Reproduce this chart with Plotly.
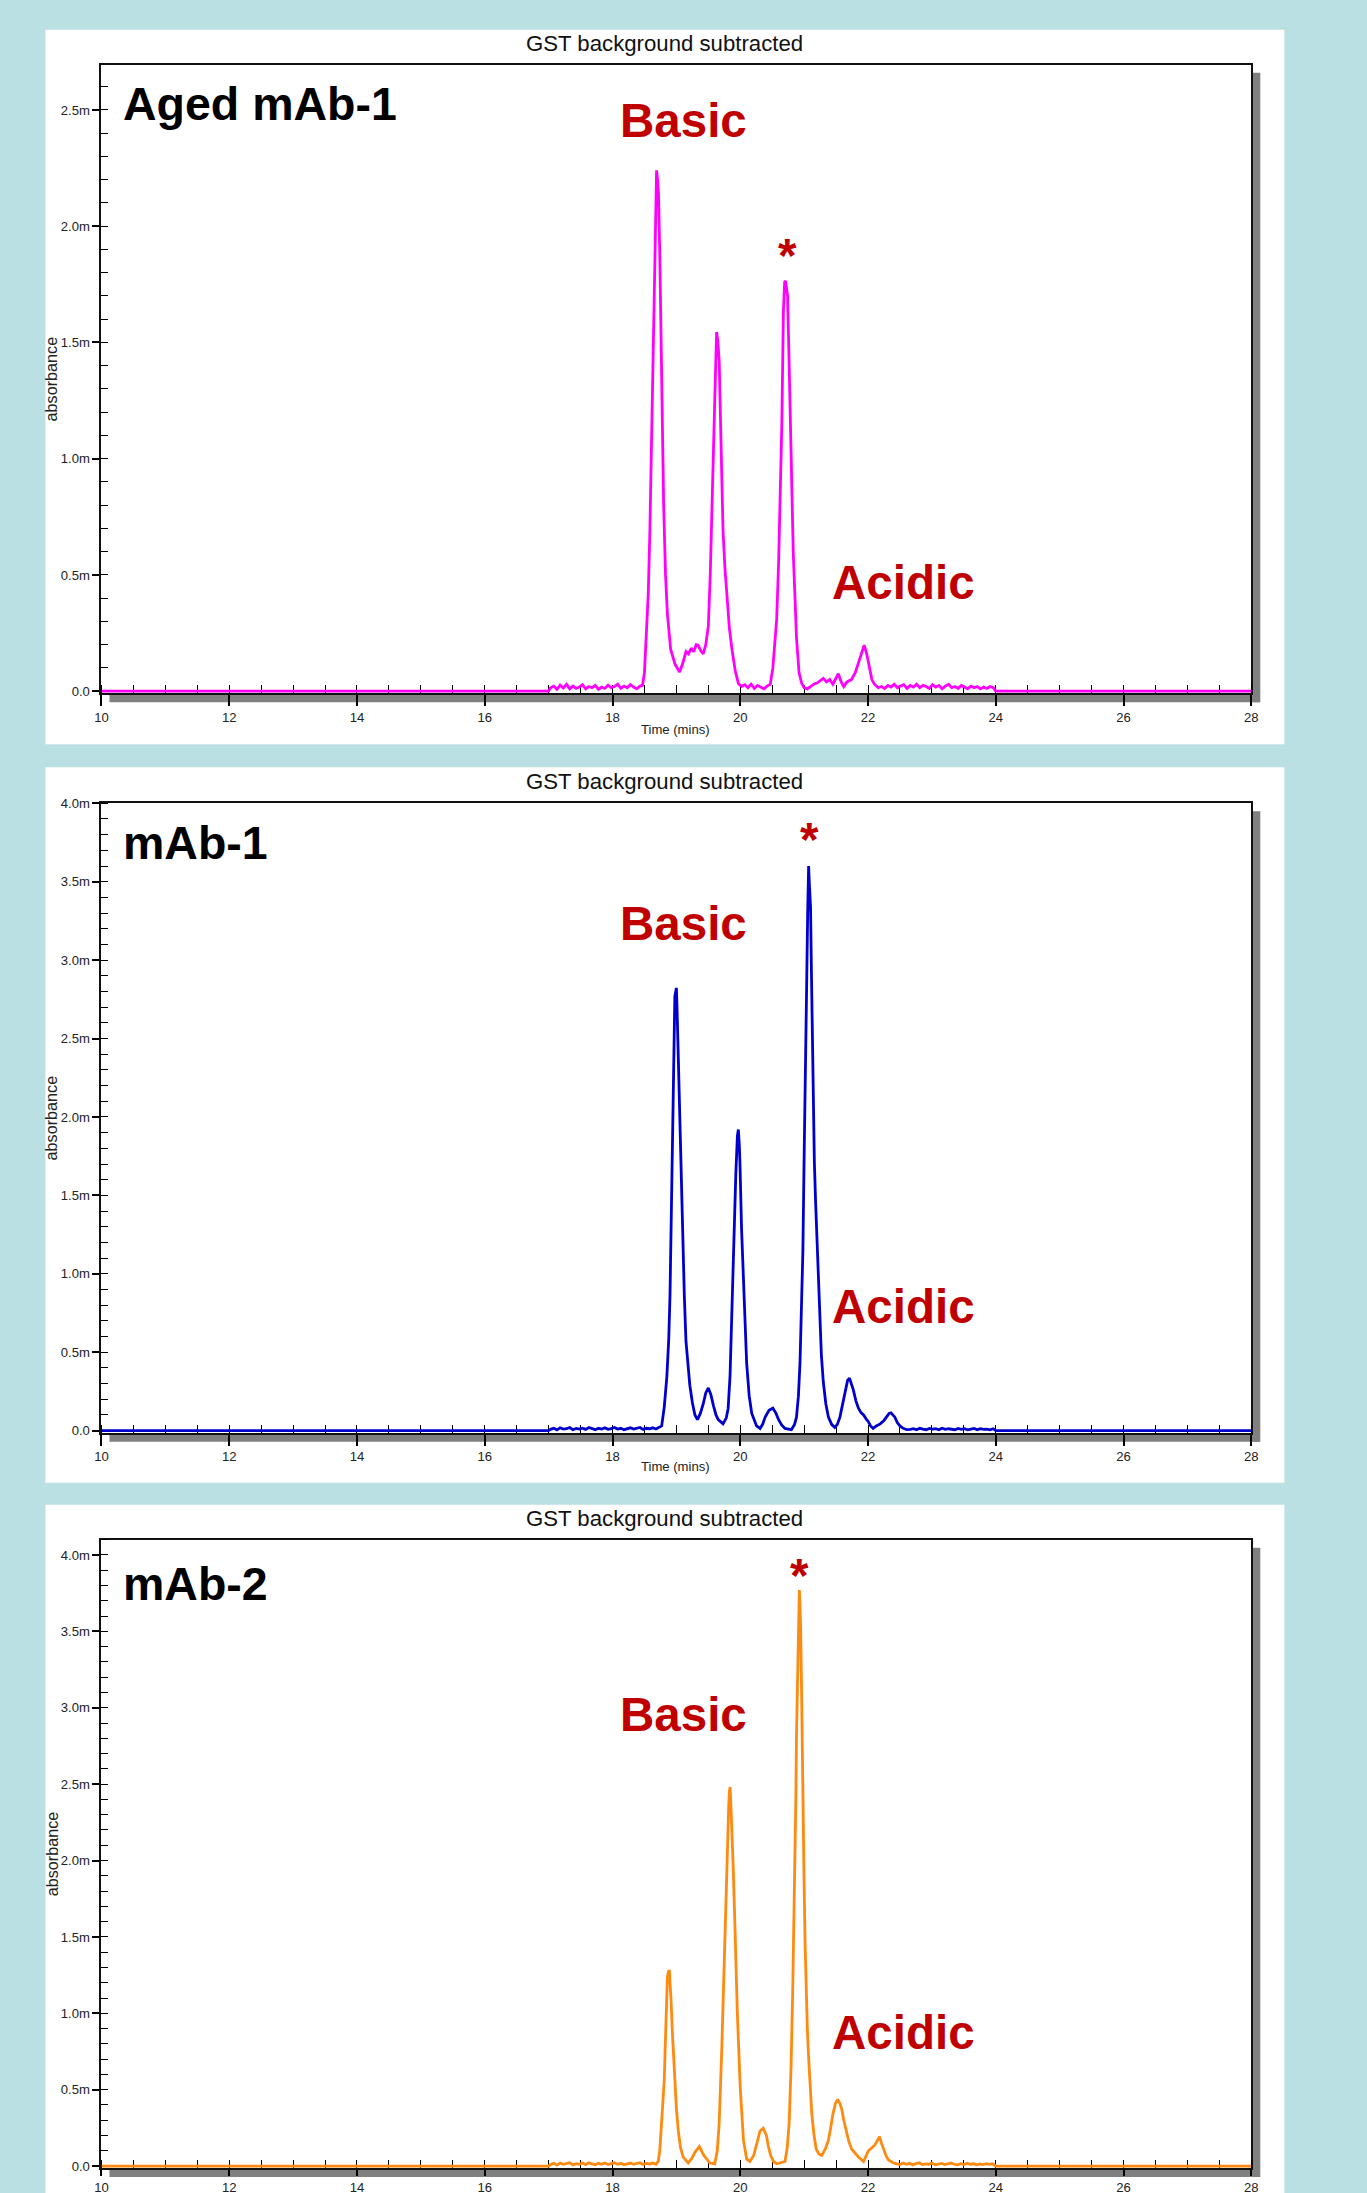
import plotly.graph_objects as go

# Placement is given in window pixels of the 1367x2193 page. The rendered figure was
# observed to land slightly shrunk and offset inside the window, so window pixels are
# converted to figure pixels with that measured calibration.
FIG_W, FIG_H = 1350, 2200
CAL_SX, CAL_OX = 0.9889, 15.6
CAL_SY, CAL_OY = 0.9935, 15.2
PAGE_BG = "#BBE0E3"
FONT = "Arial, Liberation Sans, sans-serif"

# ---------------- text ----------------
PANEL_TITLE = "GST background subtracted"
X_TITLE = "Time (mins)"
Y_TITLE = "absorbance"
panel_names = ["Aged mAb-1", "mAb-1", "mAb-2"]
line_colors = ["#FF00FF", "#0000CC", "#FF8A10"]
LABEL_RED = "#C00000"

# ---------------- ticks ----------------
x_tickvals = [10, 12, 14, 16, 18, 20, 22, 24, 26, 28]
x_ticktext = ["10", "12", "14", "16", "18", "20", "22", "24", "26", "28"]
y_tickvals_aged = [0.0, 0.5, 1.0, 1.5, 2.0, 2.5]
y_ticktext_aged = ["0.0", "0.5m", "1.0m", "1.5m", "2.0m", "2.5m"]
y_tickvals_mab = [0.0, 0.5, 1.0, 1.5, 2.0, 2.5, 3.0, 3.5, 4.0]
y_ticktext_mab = ["0.0", "0.5m", "1.0m", "1.5m", "2.0m", "2.5m", "3.0m", "3.5m", "4.0m"]

# ---------------- data: Aged mAb-1 (time in min, absorbance in milli-units) ----------------
aged_pre_t = [10.0, 17.0, 17.03, 17.08, 17.13, 17.18, 17.23, 17.28, 17.33, 17.38, 17.43, 17.48, 17.53,
              17.58, 17.63, 17.68, 17.73, 17.78, 17.83, 17.88, 17.93, 17.98, 18.03, 18.08, 18.13,
              18.18, 18.23, 18.28, 18.33, 18.38, 18.43]
aged_pre_a = [0.0, 0.0, 0.015, 0.022, 0.008, 0.026, 0.014, 0.030, 0.010, 0.022, 0.012, 0.018, 0.028,
              0.010, 0.020, 0.015, 0.025, 0.008, 0.018, 0.012, 0.026, 0.015, 0.020, 0.030, 0.012,
              0.022, 0.015, 0.028, 0.018, 0.010, 0.022]
aged_peak_t = [18.47, 18.50, 18.53, 18.56, 18.585, 18.61, 18.64, 18.67, 18.69, 18.705, 18.72, 18.74,
               18.77, 18.80, 18.83, 18.86, 18.91, 18.98, 19.05, 19.10, 19.15, 19.19, 19.23, 19.27,
               19.31, 19.34, 19.38, 19.42, 19.46, 19.50, 19.53, 19.56, 19.59, 19.61, 19.63, 19.65,
               19.67, 19.70, 19.73, 19.76, 19.79, 19.83, 19.87, 19.92, 19.97,
               20.02, 20.07, 20.12, 20.17, 20.22, 20.27, 20.32, 20.37, 20.42, 20.47,
               20.51, 20.54, 20.57, 20.60, 20.62, 20.65, 20.675, 20.695, 20.71, 20.725, 20.74, 20.76,
               20.79, 20.81, 20.83, 20.86, 20.88, 20.92, 20.96, 21.00, 21.05, 21.10, 21.15, 21.20,
               21.25, 21.30, 21.35, 21.40, 21.45, 21.50, 21.535, 21.58, 21.62, 21.67, 21.74, 21.80,
               21.85, 21.90, 21.94, 21.98, 22.02, 22.06, 22.10, 22.16]
aged_peak_a = [0.025, 0.08, 0.23, 0.42, 0.69, 1.10, 1.60, 2.05, 2.24, 2.20, 2.14, 1.88,
               1.30, 0.81, 0.50, 0.33, 0.18, 0.115, 0.083, 0.12, 0.17, 0.16, 0.185, 0.17,
               0.20, 0.198, 0.175, 0.16, 0.20, 0.28, 0.50, 0.78, 1.06, 1.35, 1.545, 1.50,
               1.42, 1.04, 0.69, 0.53, 0.40, 0.27, 0.18, 0.09, 0.033,
               0.020, 0.028, 0.015, 0.030, 0.012, 0.025, 0.018, 0.010, 0.022, 0.030,
               0.10, 0.20, 0.31, 0.55, 0.81, 1.14, 1.63, 1.76, 1.764, 1.72, 1.70, 1.47,
               1.055, 0.80, 0.59, 0.38, 0.23, 0.08, 0.035, 0.015, 0.010, 0.020, 0.030, 0.035,
               0.045, 0.055, 0.040, 0.050, 0.030, 0.060, 0.075, 0.040, 0.020, 0.040, 0.050, 0.080,
               0.12, 0.17, 0.198, 0.16, 0.10, 0.05, 0.03, 0.015]
aged_post_t = [22.21, 22.26, 22.31, 22.36, 22.41, 22.46, 22.51, 22.56, 22.61, 22.66, 22.71, 22.76,
               22.81, 22.86, 22.91, 22.96, 23.01, 23.06, 23.11, 23.16, 23.21, 23.26, 23.31, 23.36,
               23.41, 23.46, 23.51, 23.56, 23.61, 23.66, 23.71, 23.76, 23.81, 23.86, 23.91, 23.96,
               24.0, 28.0]
aged_post_a = [0.020, 0.012, 0.025, 0.018, 0.030, 0.015, 0.022, 0.028, 0.012, 0.025, 0.018, 0.030,
               0.015, 0.025, 0.020, 0.012, 0.028, 0.018, 0.025, 0.010, 0.022, 0.030, 0.015, 0.020,
               0.012, 0.025, 0.018, 0.010, 0.022, 0.015, 0.020, 0.010, 0.018, 0.012, 0.020, 0.015,
               0.0, 0.0]

# ---------------- data: mAb-1 ----------------
mab1_pre_t = [10.0, 17.0, 17.03, 17.08, 17.13, 17.18, 17.23, 17.28, 17.33, 17.38, 17.43, 17.48, 17.53,
              17.58, 17.63, 17.68, 17.73, 17.78, 17.83, 17.88, 17.93, 17.98, 18.03, 18.08, 18.13,
              18.18, 18.23, 18.28, 18.33, 18.38, 18.43, 18.48, 18.53, 18.58, 18.63, 18.68, 18.73]
mab1_pre_a = [0.0, 0.0, 0.008, 0.015, 0.005, 0.018, 0.010, 0.012, 0.020, 0.006, 0.014, 0.010, 0.016,
              0.008, 0.020, 0.012, 0.006, 0.015, 0.010, 0.018, 0.008, 0.013, 0.020, 0.010, 0.015,
              0.006, 0.012, 0.018, 0.010, 0.014, 0.020, 0.008, 0.015, 0.012, 0.018, 0.010, 0.020]
mab1_peak_t = [18.77, 18.81, 18.85, 18.88, 18.90, 18.925, 18.95, 18.976, 18.99, 19.00, 19.01, 19.02,
               19.04, 19.055, 19.08, 19.10, 19.125, 19.15, 19.18, 19.21, 19.25, 19.29, 19.33, 19.375,
               19.42, 19.46, 19.50, 19.54, 19.58, 19.62, 19.655, 19.73, 19.78, 19.81, 19.84, 19.865,
               19.88, 19.90, 19.93, 19.955, 19.97, 19.985, 19.995, 20.02, 20.04, 20.06, 20.08, 20.10,
               20.14, 20.18, 20.255, 20.31, 20.35, 20.39, 20.45, 20.51, 20.56, 20.60, 20.65, 20.70,
               20.80, 20.85, 20.88, 20.91, 20.935, 20.96, 20.98, 21.00, 21.01, 21.025, 21.04, 21.055,
               21.065, 21.07, 21.08, 21.10, 21.115, 21.13, 21.16, 21.18, 21.20, 21.22, 21.24, 21.27,
               21.30, 21.34, 21.38, 21.43, 21.48, 21.52, 21.56, 21.60, 21.64, 21.68, 21.71, 21.74,
               21.77, 21.81, 21.85, 21.89, 21.93, 21.97, 22.005, 22.04, 22.08, 22.13, 22.19, 22.25,
               22.29, 22.33, 22.36, 22.39, 22.42, 22.46, 22.50, 22.55, 22.61]
mab1_peak_a = [0.03, 0.15, 0.34, 0.58, 0.86, 1.49, 2.21, 2.77, 2.80, 2.823, 2.70, 2.54,
               2.15, 1.80, 1.42, 1.14, 0.85, 0.57, 0.41, 0.29, 0.18, 0.10, 0.07, 0.11,
               0.17, 0.24, 0.272, 0.23, 0.16, 0.10, 0.07, 0.043, 0.08, 0.14, 0.35, 0.71,
               1.00, 1.29, 1.63, 1.88, 1.92, 1.82, 1.71, 1.29, 1.05, 0.86, 0.62, 0.43,
               0.22, 0.11, 0.03, 0.014, 0.04, 0.086, 0.13, 0.143, 0.11, 0.07, 0.035, 0.014,
               0.006, 0.04, 0.086, 0.22, 0.43, 0.78, 1.14, 1.75, 2.14, 2.50, 2.86, 3.30,
               3.55, 3.60, 3.50, 3.34, 2.90, 2.43, 1.71, 1.45, 1.23, 0.95, 0.71, 0.48,
               0.31, 0.17, 0.086, 0.04, 0.02, 0.04, 0.086, 0.17, 0.26, 0.32, 0.335, 0.30,
               0.26, 0.19, 0.143, 0.115, 0.10, 0.075, 0.057, 0.03, 0.014, 0.03, 0.043, 0.065,
               0.09, 0.11, 0.114, 0.10, 0.086, 0.05, 0.03, 0.015, 0.006]
mab1_post_t = [22.66, 22.71, 22.76, 22.81, 22.86, 22.91, 22.96, 23.01, 23.06, 23.11, 23.16, 23.21,
               23.26, 23.31, 23.36, 23.41, 23.46, 23.51, 23.56, 23.61, 23.66, 23.71, 23.76, 23.81,
               23.86, 23.91, 23.96, 24.0, 28.0]
mab1_post_a = [0.008, 0.012, 0.005, 0.015, 0.010, 0.006, 0.014, 0.010, 0.012, 0.005, 0.015, 0.008,
               0.012, 0.010, 0.006, 0.014, 0.008, 0.012, 0.005, 0.010, 0.014, 0.006, 0.012, 0.008,
               0.010, 0.005, 0.012, 0.0, 0.0]

# ---------------- data: mAb-2 ----------------
mab2_pre_t = [10.0, 17.0, 17.03, 17.08, 17.13, 17.18, 17.23, 17.28, 17.33, 17.38, 17.43, 17.48, 17.53,
              17.58, 17.63, 17.68, 17.73, 17.78, 17.83, 17.88, 17.93, 17.98, 18.03, 18.08, 18.13,
              18.18, 18.23, 18.28, 18.33, 18.38, 18.43, 18.48, 18.53, 18.58, 18.63, 18.68]
mab2_pre_a = [0.0, 0.0, 0.010, 0.018, 0.006, 0.020, 0.012, 0.015, 0.022, 0.008, 0.016, 0.012, 0.020,
              0.010, 0.022, 0.014, 0.008, 0.018, 0.012, 0.020, 0.010, 0.016, 0.022, 0.012, 0.018,
              0.008, 0.015, 0.020, 0.012, 0.016, 0.022, 0.010, 0.018, 0.014, 0.020, 0.012]
mab2_peak_t = [18.715, 18.74, 18.77, 18.79, 18.81, 18.825, 18.84, 18.86, 18.875, 18.89, 18.90, 18.915,
               18.94, 18.96, 18.98, 19.00, 19.03, 19.065, 19.105, 19.185, 19.24, 19.29, 19.36, 19.43,
               19.525, 19.60, 19.64, 19.67, 19.71, 19.75, 19.79, 19.82, 19.83, 19.84, 19.85, 19.865,
               19.89, 19.92, 19.955, 20.00, 20.05, 20.10, 20.15, 20.21, 20.255, 20.31, 20.36, 20.41,
               20.44, 20.475, 20.52, 20.57, 20.70, 20.735, 20.765, 20.795, 20.82, 20.84, 20.855, 20.87,
               20.88, 20.895, 20.91, 20.925, 20.935, 20.945, 20.96, 20.97, 20.985, 21.00, 21.015, 21.03,
               21.05, 21.07, 21.095, 21.12, 21.155, 21.19, 21.23, 21.275, 21.33, 21.38, 21.415, 21.45,
               21.49, 21.525, 21.56, 21.59, 21.62, 21.655, 21.70, 21.745, 21.80, 21.85, 21.93, 21.97,
               22.005, 22.06, 22.11, 22.15, 22.18, 22.21, 22.24, 22.28, 22.32, 22.40]
mab2_peak_a = [0.03, 0.10, 0.28, 0.40, 0.56, 0.78, 0.99, 1.24, 1.27, 1.283, 1.20, 1.10,
               0.85, 0.68, 0.51, 0.38, 0.23, 0.12, 0.06, 0.02, 0.05, 0.09, 0.127, 0.07,
               0.02, 0.015, 0.10, 0.28, 0.76, 1.41, 1.89, 2.37, 2.45, 2.481, 2.40, 2.26,
               1.95, 1.52, 0.99, 0.51, 0.17, 0.045, 0.03, 0.07, 0.14, 0.23, 0.248, 0.20,
               0.13, 0.07, 0.03, 0.015, 0.03, 0.12, 0.28, 0.65, 1.13, 1.55, 1.97, 2.40,
               2.82, 3.25, 3.67, 3.77, 3.68, 3.53, 3.10, 2.68, 2.25, 1.83, 1.45, 1.13,
               0.90, 0.71, 0.50, 0.34, 0.20, 0.11, 0.08, 0.07, 0.11, 0.17, 0.25, 0.34,
               0.41, 0.437, 0.41, 0.37, 0.30, 0.23, 0.16, 0.11, 0.08, 0.06, 0.03, 0.07,
               0.10, 0.12, 0.14, 0.17, 0.192, 0.15, 0.11, 0.07, 0.04, 0.02]
mab2_post_t = [22.45, 22.50, 22.55, 22.60, 22.65, 22.70, 22.75, 22.80, 22.85, 22.90, 22.95, 23.00,
               23.05, 23.10, 23.15, 23.20, 23.25, 23.30, 23.35, 23.40, 23.45, 23.50, 23.55, 23.60,
               23.65, 23.70, 23.75, 23.80, 23.85, 23.90, 23.95, 24.0, 28.0]
mab2_post_a = [0.015, 0.010, 0.020, 0.012, 0.018, 0.008, 0.016, 0.022, 0.010, 0.015, 0.012, 0.020,
               0.008, 0.015, 0.018, 0.010, 0.014, 0.020, 0.012, 0.008, 0.016, 0.010, 0.018, 0.012,
               0.015, 0.008, 0.014, 0.010, 0.016, 0.012, 0.015, 0.0, 0.0]

series_t = [aged_pre_t + aged_peak_t + aged_post_t,
            mab1_pre_t + mab1_peak_t + mab1_post_t,
            mab2_pre_t + mab2_peak_t + mab2_post_t]
series_a = [aged_pre_a + aged_peak_a + aged_post_a,
            mab1_pre_a + mab1_peak_a + mab1_post_a,
            mab2_pre_a + mab2_peak_a + mab2_post_a]

# ---------------- layout geometry (window pixels) ----------------
PLOT_X0, PLOT_X1 = 102, 1251
BOX_X0, BOX_X1 = 46, 1284
panels = [
    dict(box=(30, 744), plot=(65, 693), yr=[-0.0086, 2.694], yt=(y_tickvals_aged, y_ticktext_aged),
         title_y=44, name_y=104, basic_y=121, acidic_y=582, star=(788, 256), xtitle_y=729, xticklen=11),
    dict(box=(767, 1482), plot=(803, 1432), yr=[-0.0128, 4.0], yt=(y_tickvals_mab, y_ticktext_mab),
         title_y=781, name_y=843, basic_y=923, acidic_y=1306, star=(810, 839), xtitle_y=1466, xticklen=11),
    dict(box=(1504, 2230), plot=(1539, 2167), yr=[-0.013, 4.10], yt=(y_tickvals_mab, y_ticktext_mab),
         title_y=1518, name_y=1583, basic_y=1714, acidic_y=2032, star=(800, 1575), xtitle_y=None, xticklen=6),
]


def px(x):
    return (x - CAL_OX) / CAL_SX / FIG_W


def py(y):
    return 1 - (y - CAL_OY) / CAL_SY / FIG_H


def fs(size):
    return round(size / CAL_SX, 1)


fig = go.Figure()
layout = dict(
    width=FIG_W, height=FIG_H, autosize=False,
    margin=dict(l=0, r=0, t=0, b=0),
    paper_bgcolor=PAGE_BG, plot_bgcolor="white",
    showlegend=False,
    font=dict(family=FONT, color="#111111"),
)
shapes = []
annotations = []

for i, p in enumerate(panels):
    n = i + 1
    xid = "x" if n == 1 else f"x{n}"
    yid = "y" if n == 1 else f"y{n}"
    xkey = "xaxis" if n == 1 else f"xaxis{n}"
    ykey = "yaxis" if n == 1 else f"yaxis{n}"
    xo, yo = n + 3, n + 3

    fig.add_trace(go.Scatter(x=series_t[i], y=series_a[i], mode="lines",
                             line=dict(color=line_colors[i], width=2.8),
                             xaxis=xid, yaxis=yid, hoverinfo="skip", name=panel_names[i]))

    top, bot = p["plot"]
    layout[xkey] = dict(
        domain=[px(PLOT_X0), px(PLOT_X1)], range=[10, 28], anchor=yid,
        tickmode="array", tickvals=x_tickvals, ticktext=x_ticktext,
        ticks="outside", ticklen=p["xticklen"], tickwidth=1.5, tickcolor="black",
        showline=True, linecolor="#111111", linewidth=2, mirror=True,
        showgrid=False, zeroline=False, layer="below traces",
        tickfont=dict(size=fs(13), color="#222222", family=FONT),
        minor=dict(tick0=10, dtick=0.5, ticks="inside", ticklen=8, tickwidth=1.3,
                   tickcolor="black", showgrid=False),
    )
    layout[ykey] = dict(
        domain=[max(0.0, py(bot)), min(1.0, py(top))], range=p["yr"], anchor=xid,
        tickmode="array", tickvals=p["yt"][0], ticktext=p["yt"][1],
        ticks="outside", ticklen=7, tickwidth=1.5, tickcolor="black",
        showline=True, linecolor="#111111", linewidth=2, mirror=True,
        showgrid=False, zeroline=False, layer="below traces",
        tickfont=dict(size=fs(13), color="#222222", family=FONT),
        minor=dict(tick0=0, dtick=0.1, ticks="inside", ticklen=7, tickwidth=1.3,
                   tickcolor="black", showgrid=False),
    )
    # overlay axes that give the major ticks their inner half
    layout[f"xaxis{xo}"] = dict(
        overlaying=xid, anchor=yid, range=[10, 28], side="bottom",
        tickmode="array", tickvals=x_tickvals, ticks="inside", ticklen=10, tickwidth=1.5,
        tickcolor="black", showticklabels=False, showline=False, showgrid=False,
        zeroline=False, layer="below traces",
    )
    layout[f"yaxis{yo}"] = dict(
        overlaying=yid, anchor=xid, range=p["yr"], side="left",
        tickmode="array", tickvals=p["yt"][0], ticks="inside", ticklen=8, tickwidth=1.5,
        tickcolor="black", showticklabels=False, showline=False, showgrid=False,
        zeroline=False, layer="below traces",
    )

    # white panel
    b0, b1 = p["box"]
    shapes.append(dict(type="rect", xref="paper", yref="paper", layer="below",
                       x0=px(BOX_X0), x1=px(BOX_X1), y0=py(b1), y1=py(b0),
                       fillcolor="white", line=dict(width=0)))
    # drop shadow (bottom and right)
    shapes.append(dict(type="rect", xref="paper", yref="paper", layer="below",
                       x0=px(PLOT_X0 + 8), x1=px(PLOT_X1 + 8), y0=py(bot + 9), y1=py(bot + 1),
                       fillcolor="#808080", line=dict(width=0)))
    shapes.append(dict(type="rect", xref="paper", yref="paper", layer="below",
                       x0=px(PLOT_X1 + 1), x1=px(PLOT_X1 + 9), y0=py(bot + 9), y1=py(top + 8),
                       fillcolor="#808080", line=dict(width=0)))

    # texts
    annotations.append(dict(text=PANEL_TITLE, xref="paper", yref="paper", x=px(665), y=py(p["title_y"]),
                            xanchor="center", yanchor="middle", showarrow=False,
                            font=dict(size=fs(22), color="#111111", family=FONT)))
    annotations.append(dict(text=Y_TITLE, xref="paper", yref="paper", x=px(52),
                            y=py((top + bot) / 2), textangle=-90, xanchor="center", yanchor="middle",
                            showarrow=False, font=dict(size=fs(16), color="#222222", family=FONT)))
    if p["xtitle_y"] is not None:
        annotations.append(dict(text=X_TITLE, xref="paper", yref="paper", x=px(676), y=py(p["xtitle_y"]),
                                xanchor="center", yanchor="middle", showarrow=False,
                                font=dict(size=fs(13), color="#222222", family=FONT)))
    annotations.append(dict(text="<b>" + panel_names[i] + "</b>", xref="paper", yref="paper",
                            x=px(122), y=py(p["name_y"]), xanchor="left", yanchor="middle",
                            showarrow=False, font=dict(size=fs(46), color="black", family=FONT)))
    annotations.append(dict(text="<b>Basic</b>", xref="paper", yref="paper",
                            x=px(684), y=py(p["basic_y"]), xanchor="center", yanchor="middle",
                            showarrow=False, font=dict(size=fs(47), color=LABEL_RED, family=FONT)))
    annotations.append(dict(text="<b>Acidic</b>", xref="paper", yref="paper",
                            x=px(903), y=py(p["acidic_y"]), xanchor="center", yanchor="middle",
                            showarrow=False, font=dict(size=fs(47), color=LABEL_RED, family=FONT)))
    annotations.append(dict(text="<b>*</b>", xref="paper", yref="paper",
                            x=px(p["star"][0]), y=py(p["star"][1]), xanchor="center", yanchor="middle",
                            showarrow=False, font=dict(size=fs(47), color=LABEL_RED, family=FONT)))

layout["shapes"] = shapes
layout["annotations"] = annotations
fig.update_layout(**layout)

# page background outside the figure: teal, with the last panel's white card running to the bottom edge
POST = ("document.documentElement.style.overflow='hidden';"
        "document.documentElement.style.background="
        "'linear-gradient(#ffffff,#ffffff) " + str(BOX_X0) + "px 100% / " + str(BOX_X1 - BOX_X0)
        + "px 12px no-repeat, " + PAGE_BG + "';")

fig.write_html("out.html", include_plotlyjs=True, full_html=True,
               config={"displayModeBar": False, "responsive": False},
               post_script=POST)
